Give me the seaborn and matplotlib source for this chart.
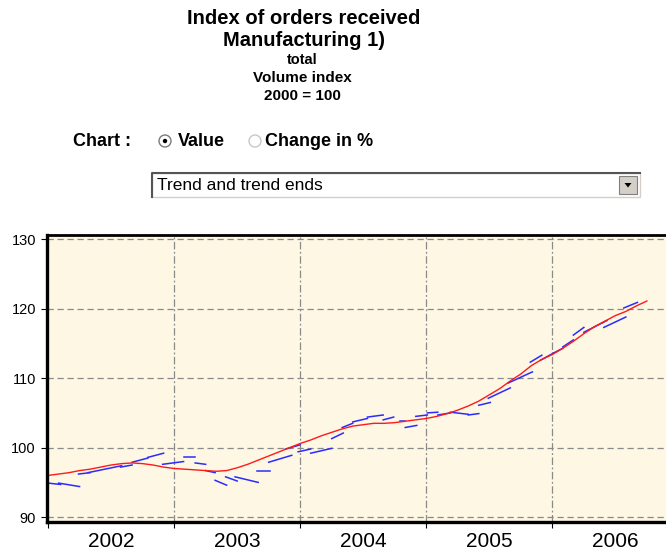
import numpy as np
import pandas as pd
import matplotlib
matplotlib.use("Agg")
import matplotlib.pyplot as plt
from matplotlib.patches import Rectangle, Circle, Polygon
from matplotlib.ticker import FixedLocator, NullFormatter
import seaborn as sns

plt.rcParams['font.family'] = ['Liberation Sans', 'DejaVu Sans']

# trend (monthly, Jan 2002 = month 0)
trend_values = [96.0, 96.2, 96.4, 96.7, 96.9, 97.2, 97.5, 97.7, 97.8, 97.7, 97.5, 97.2,
                97.0, 96.9, 96.8, 96.7, 96.6, 96.7, 97.1, 97.6, 98.2, 98.8, 99.4, 100.0,
                100.6, 101.1, 101.7, 102.2, 102.7, 103.1, 103.3, 103.5, 103.5, 103.6, 103.8, 104.0,
                104.2, 104.5, 104.9, 105.4, 106.0, 106.7, 107.6, 108.5, 109.6, 110.6, 111.8, 112.7,
                113.4, 114.3, 115.3, 116.4, 117.4, 118.2, 119.0, 119.6, 120.4, 121.1]

# trend ends: short pieces (start month, end month, start value, end value)
end_m0 = [0.0, 1.0, 2.9, 3.8, 6.9, 8.0, 9.5, 10.9, 12.9, 14.0, 15.0, 15.9, 16.9, 17.8,
          19.9, 21.0, 22.6, 23.8, 25.0, 27.0, 28.0, 29.0, 30.4, 31.9, 33.5, 34.0, 35.0,
          36.1, 37.1, 38.3, 40.0, 41.0, 41.9, 43.8, 45.9, 46.9, 48.1, 49.0, 50.0, 51.0,
          52.9, 54.8]
end_m1 = [1.2, 3.0, 4.0, 7.0, 8.0, 9.5, 11.0, 12.9, 14.0, 15.0, 15.9, 17.0, 18.0, 20.0,
          21.1, 23.2, 24.0, 25.0, 27.0, 28.1, 29.0, 30.4, 31.9, 32.9, 34.0, 35.1, 36.1,
          37.1, 38.3, 40.0, 41.0, 42.1, 44.0, 46.1, 47.0, 48.1, 49.0, 50.0, 51.0, 53.2,
          55.0, 56.1]
end_v0 = [94.9, 94.9, 96.2, 96.4, 97.2, 97.9, 98.6, 97.6, 98.7, 97.8, 96.7, 95.3, 95.8, 95.8,
          96.6, 97.9, 99.8, 99.4, 99.2, 101.3, 102.9, 103.7, 104.4, 104.0, 103.8, 102.9, 104.5,
          105.0, 104.7, 105.1, 104.7, 106.1, 107.1, 109.3, 112.3, 112.6, 113.6, 114.5, 116.2, 116.6,
          117.3, 120.1]
end_v1 = [94.7, 94.4, 96.4, 97.4, 97.5, 98.5, 99.2, 98.0, 98.7, 97.6, 96.4, 94.6, 95.2, 95.0,
          96.6, 98.9, 100.4, 99.8, 99.9, 102.1, 103.5, 104.2, 104.7, 104.4, 103.8, 103.2, 104.7,
          105.1, 105.0, 104.8, 104.9, 106.5, 108.6, 110.9, 113.3, 113.6, 114.3, 115.5, 117.3, 118.3,
          118.8, 120.9]

years = ['2002', '2003', '2004', '2005', '2006']
y_ticks = [90, 100, 110, 120, 130]

trend_df = pd.DataFrame({'month': np.arange(len(trend_values)), 'value': trend_values})
ends_df = pd.DataFrame({
    'seg': np.repeat(np.arange(len(end_m0)), 2),
    'month': np.ravel(np.column_stack([end_m0, end_m1])),
    'value': np.ravel(np.column_stack([end_v0, end_v1])),
})

W, H = 666, 556
fig = plt.figure(figsize=(W / 100, H / 100), dpi=100)
fig.patch.set_facecolor('white')

# page header drawn in pixel coordinates
hdr = fig.add_axes([0, 0, 1, 1], zorder=0)
hdr.set_xlim(0, W)
hdr.set_ylim(H, 0)
hdr.axis('off')

hdr.text(304, 19, 'Index of orders received', ha='center', va='center', fontsize=14.5, fontweight='bold')
hdr.text(304, 40, 'Manufacturing 1)', ha='center', va='center', fontsize=14.5, fontweight='bold')
hdr.text(302, 60, 'total', ha='center', va='center', fontsize=10.5, fontweight='bold')
hdr.text(302, 78, 'Volume index', ha='center', va='center', fontsize=11, fontweight='bold')
hdr.text(302, 96, '2000 = 100', ha='center', va='center', fontsize=11, fontweight='bold')

hdr.text(73, 141, 'Chart :', ha='left', va='center', fontsize=13, fontweight='bold')
hdr.add_patch(Circle((165, 141), 6, facecolor='white', edgecolor='#7a7a7a', lw=1))
hdr.add_patch(Circle((165, 141), 2.2, facecolor='black', edgecolor='none'))
hdr.text(178, 142, 'Value', ha='left', va='center', fontsize=13, fontweight='bold')
hdr.add_patch(Circle((255, 141), 6, facecolor='white', edgecolor='#c8c8c8', lw=1))
hdr.text(265, 142, 'Change in %', ha='left', va='center', fontsize=13, fontweight='bold')

# dropdown box
hdr.add_patch(Rectangle((152, 173), 488, 24, facecolor='white', edgecolor='#d4d0c8', lw=1))
hdr.plot([152, 152, 640], [197, 173, 173], color='#555555', lw=1.5)
hdr.add_patch(Rectangle((619, 176), 18, 18, facecolor='#d4d0c8', edgecolor='#808080', lw=0.8))
hdr.add_patch(Polygon([(624.5, 183), (631.5, 183), (628, 187.5)], closed=True, facecolor='black'))
hdr.text(157, 186, 'Trend and trend ends', ha='left', va='center', fontsize=12.5)

# chart
ax = fig.add_axes([47 / W, 34 / H, 623 / W, 287 / H], zorder=1)
ax.set_facecolor('#fdf7e4')

sns.lineplot(data=ends_df, x='month', y='value', units='seg', estimator=None,
             color='#2b2bff', lw=1.1, ax=ax, legend=False)
sns.lineplot(data=trend_df, x='month', y='value', color='#ff1a1a', lw=1.0, ax=ax)

ax.set_xlim(-0.1, 59.2)
ax.set_ylim(89.3, 130.6)
ax.set_xlabel('')
ax.set_ylabel('')

ax.yaxis.set_major_locator(FixedLocator(y_ticks))
ax.set_yticklabels([str(t) for t in y_ticks])
ax.xaxis.set_major_locator(FixedLocator([0, 12, 24, 36, 48]))
ax.xaxis.set_major_formatter(NullFormatter())
ax.xaxis.set_minor_locator(FixedLocator([6, 18, 30, 42, 54]))
ax.set_xticklabels(years, minor=True)

ax.tick_params(axis='y', direction='out', length=4, width=0.8, pad=4, labelsize=10.5, color='black')
ax.tick_params(axis='x', which='major', direction='out', length=4, width=0.8, color='black')
ax.tick_params(axis='x', which='minor', length=0, pad=7, labelsize=15)

# grid: dashed horizontals, dash-dot verticals
for v in y_ticks:
    ax.axhline(v, color='#8a8a8a', lw=0.9, dashes=(5, 3), zorder=0.5)
for m in [12, 24, 36, 48]:
    ax.axvline(m, color='#8a8a8a', lw=0.9, dashes=(6, 2, 1.5, 2), zorder=0.5)

for side, lw in [('left', 2.4), ('bottom', 2.4), ('top', 2.0)]:
    ax.spines[side].set_linewidth(lw)
    ax.spines[side].set_color('black')
ax.spines['right'].set_visible(False)

fig.savefig('out.png', dpi=100)
